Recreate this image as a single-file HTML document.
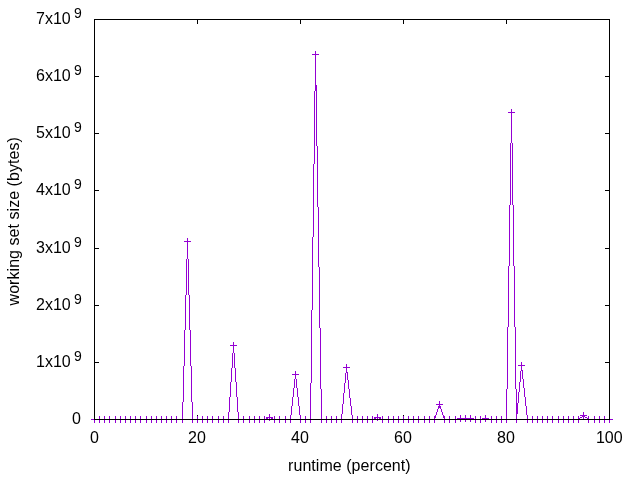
<!DOCTYPE html>
<html><head><meta charset="utf-8"><style>
html,body{margin:0;padding:0;background:#fff;width:640px;height:480px;overflow:hidden}
svg{display:block;will-change:transform}
text{font-family:"Liberation Sans",Arial,sans-serif;font-size:16px;fill:#000}
</style></head><body>
<svg width="640" height="480" viewBox="0 0 640 480">
<rect width="640" height="480" fill="#fff"/>
<path shape-rendering="crispEdges" fill="#9400d3" d="M91 419h3v1h-3zM94 420h1v3h-1zM99 416h1v3h-1zM99 420h1v3h-1zM104 416h1v3h-1zM104 420h1v3h-1zM109 416h1v3h-1zM109 420h1v3h-1zM115 416h1v3h-1zM115 420h1v3h-1zM120 416h1v3h-1zM120 420h1v3h-1zM125 416h1v3h-1zM125 420h1v3h-1zM130 416h1v3h-1zM130 420h1v3h-1zM135 416h1v3h-1zM135 420h1v3h-1zM140 416h1v3h-1zM140 420h1v3h-1zM146 416h1v3h-1zM146 420h1v3h-1zM151 416h1v3h-1zM151 420h1v3h-1zM156 416h1v3h-1zM156 420h1v3h-1zM161 416h1v3h-1zM161 420h1v3h-1zM166 416h1v3h-1zM166 420h1v3h-1zM171 416h1v3h-1zM171 420h1v3h-1zM176 416h1v3h-1zM176 420h1v3h-1zM182 402h1v17h-1zM182 420h1v3h-1zM183 366h1v36h-1zM184 241h7v1h-7zM184 330h1v36h-1zM185 295h1v35h-1zM186 259h1v36h-1zM187 238h1v3h-1zM187 242h1v17h-1zM188 259h1v36h-1zM189 295h1v35h-1zM190 330h1v36h-1zM191 366h1v36h-1zM192 402h1v17h-1zM192 420h1v3h-1zM197 416h1v3h-1zM197 420h1v3h-1zM202 416h1v3h-1zM202 420h1v3h-1zM207 416h1v3h-1zM207 420h1v3h-1zM212 416h1v3h-1zM212 420h1v3h-1zM218 416h1v3h-1zM218 420h1v3h-1zM223 416h1v3h-1zM223 420h1v3h-1zM228 412h1v7h-1zM228 420h1v3h-1zM229 397h1v15h-1zM230 345h7v1h-7zM230 382h1v15h-1zM231 368h1v14h-1zM232 353h1v15h-1zM233 342h1v3h-1zM233 346h1v7h-1zM234 353h1v15h-1zM235 368h1v14h-1zM236 382h1v15h-1zM237 397h1v15h-1zM238 412h1v7h-1zM238 420h1v3h-1zM243 416h1v3h-1zM243 420h1v3h-1zM249 416h1v3h-1zM249 420h1v3h-1zM254 416h1v3h-1zM254 420h1v3h-1zM259 416h1v3h-1zM259 420h1v3h-1zM264 416h1v3h-1zM264 420h1v3h-1zM266 417h7v1h-7zM266 418h2v1h-2zM269 414h1v3h-1zM269 418h1v1h-1zM269 420h1v1h-1zM271 418h2v1h-2zM274 416h1v3h-1zM274 420h1v3h-1zM279 416h1v3h-1zM279 420h1v3h-1zM285 416h1v3h-1zM285 420h1v3h-1zM290 415h1v4h-1zM290 420h1v3h-1zM291 406h1v9h-1zM292 374h7v1h-7zM292 397h1v9h-1zM293 388h1v9h-1zM294 379h1v9h-1zM295 371h1v3h-1zM295 375h1v4h-1zM296 379h1v9h-1zM297 388h1v9h-1zM298 397h1v9h-1zM299 406h1v9h-1zM300 415h1v4h-1zM300 420h1v3h-1zM305 416h1v3h-1zM305 420h1v3h-1zM310 383h1v36h-1zM310 420h1v3h-1zM311 310h1v73h-1zM312 54h7v1h-7zM312 237h1v73h-1zM313 164h1v73h-1zM314 91h1v73h-1zM315 51h1v3h-1zM315 55h1v30h-1zM315 85h2v6h-2zM316 91h1v55h-1zM317 146h1v61h-1zM318 207h1v60h-1zM319 267h1v61h-1zM320 328h1v61h-1zM321 389h1v30h-1zM321 420h1v3h-1zM326 416h1v3h-1zM326 420h1v3h-1zM331 416h1v3h-1zM331 420h1v3h-1zM336 416h1v3h-1zM336 420h1v3h-1zM341 414h1v5h-1zM341 420h1v3h-1zM342 404h1v10h-1zM343 367h7v1h-7zM343 393h1v11h-1zM344 383h1v10h-1zM345 373h1v10h-1zM346 364h1v3h-1zM346 368h1v4h-1zM346 372h2v1h-2zM347 373h1v7h-1zM348 380h1v9h-1zM349 389h1v9h-1zM350 398h1v8h-1zM351 406h1v9h-1zM352 415h1v4h-1zM352 420h1v3h-1zM357 416h1v3h-1zM357 420h1v3h-1zM362 416h1v3h-1zM362 420h1v3h-1zM367 416h1v3h-1zM367 420h1v3h-1zM372 416h1v3h-1zM372 420h1v3h-1zM374 417h7v1h-7zM374 418h2v1h-2zM377 414h1v3h-1zM377 418h1v1h-1zM377 420h1v1h-1zM379 418h2v1h-2zM382 416h1v3h-1zM382 420h1v3h-1zM388 416h1v3h-1zM388 420h1v3h-1zM393 416h1v3h-1zM393 420h1v3h-1zM398 416h1v3h-1zM398 420h1v3h-1zM403 416h1v3h-1zM403 420h1v3h-1zM408 416h1v3h-1zM408 420h1v3h-1zM413 416h1v3h-1zM413 420h1v3h-1zM418 416h1v3h-1zM418 420h1v3h-1zM424 416h1v3h-1zM424 420h1v3h-1zM429 416h1v3h-1zM429 420h1v3h-1zM434 416h2v2h-2zM434 418h1v1h-1zM434 420h1v3h-1zM435 415h1v1h-1zM436 404h7v1h-7zM436 412h1v3h-1zM437 409h1v3h-1zM438 406h3v2h-3zM438 408h1v1h-1zM439 401h1v3h-1zM439 405h1v1h-1zM440 408h1v1h-1zM441 409h1v3h-1zM442 412h1v3h-1zM443 415h1v1h-1zM443 416h2v2h-2zM444 418h1v1h-1zM444 420h1v3h-1zM449 416h1v3h-1zM449 420h1v3h-1zM455 416h1v3h-1zM455 420h1v3h-1zM457 418h17v1h-17zM460 415h1v3h-1zM460 420h1v2h-1zM465 415h1v3h-1zM465 420h1v2h-1zM470 415h1v3h-1zM470 420h1v2h-1zM475 416h1v3h-1zM475 420h1v3h-1zM480 416h1v3h-1zM480 420h1v3h-1zM482 418h7v1h-7zM485 415h1v3h-1zM485 420h1v2h-1zM491 416h1v3h-1zM491 420h1v3h-1zM496 416h1v3h-1zM496 420h1v3h-1zM501 416h1v3h-1zM501 420h1v3h-1zM506 389h1v30h-1zM506 420h1v3h-1zM507 327h1v62h-1zM508 112h7v1h-7zM508 266h1v61h-1zM509 205h1v61h-1zM510 143h1v62h-1zM511 109h1v3h-1zM511 113h1v30h-1zM512 143h1v62h-1zM513 205h1v61h-1zM514 266h1v61h-1zM515 327h1v62h-1zM516 389h1v14h-1zM516 403h2v11h-2zM516 414h1v5h-1zM516 420h1v3h-1zM518 365h7v1h-7zM518 392h1v11h-1zM519 382h1v10h-1zM520 371h1v11h-1zM521 362h1v3h-1zM521 366h1v4h-1zM521 370h2v1h-2zM522 371h1v8h-1zM523 379h1v9h-1zM524 388h1v9h-1zM525 397h1v9h-1zM526 406h1v9h-1zM527 415h1v4h-1zM527 420h1v3h-1zM532 416h1v3h-1zM532 420h1v3h-1zM537 416h1v3h-1zM537 420h1v3h-1zM542 416h1v3h-1zM542 420h1v3h-1zM547 416h1v3h-1zM547 420h1v3h-1zM552 416h1v3h-1zM552 420h1v3h-1zM558 416h1v3h-1zM558 420h1v3h-1zM563 416h1v3h-1zM563 420h1v3h-1zM568 416h1v3h-1zM568 420h1v3h-1zM573 416h1v3h-1zM573 420h1v3h-1zM578 416h1v2h-1zM578 418h2v1h-2zM578 420h1v3h-1zM580 415h7v1h-7zM580 417h2v1h-2zM582 416h3v1h-3zM583 412h1v3h-1zM583 417h1v2h-1zM585 417h2v1h-2zM587 418h2v1h-2zM588 416h1v2h-1zM588 420h1v3h-1zM594 416h1v3h-1zM594 420h1v3h-1zM599 416h1v3h-1zM599 420h1v3h-1zM604 416h1v3h-1zM604 420h1v3h-1zM609 420h1v3h-1zM610 419h3v1h-3z"/>
<path shape-rendering="crispEdges" fill="#000" d="M94 19h516v1h-516zM94 20h1v56h-1zM94 76h5v1h-5zM94 77h1v56h-1zM94 133h5v1h-5zM94 134h1v56h-1zM94 190h5v1h-5zM94 191h1v57h-1zM94 248h5v1h-5zM94 249h1v56h-1zM94 305h5v1h-5zM94 306h1v56h-1zM94 362h5v1h-5zM94 363h1v56h-1zM94 419h516v1h-516zM197 20h1v4h-1zM197 415h1v1h-1zM300 20h1v4h-1zM403 20h1v4h-1zM403 415h1v1h-1zM506 20h1v4h-1zM605 76h5v1h-5zM605 133h5v1h-5zM605 190h5v1h-5zM605 248h5v1h-5zM605 305h5v1h-5zM605 362h5v1h-5zM609 20h1v56h-1zM609 77h1v56h-1zM609 134h1v56h-1zM609 191h1v57h-1zM609 249h1v56h-1zM609 306h1v56h-1zM609 363h1v56h-1z"/>
<text x="81" y="424" text-anchor="end">0</text>
<text x="36" y="367">1x10<tspan dx="3.2" dy="-6.5" font-size="14">9</tspan></text>
<text x="36" y="310">2x10<tspan dx="3.2" dy="-6.5" font-size="14">9</tspan></text>
<text x="36" y="253">3x10<tspan dx="3.2" dy="-6.5" font-size="14">9</tspan></text>
<text x="36" y="195">4x10<tspan dx="3.2" dy="-6.5" font-size="14">9</tspan></text>
<text x="36" y="138">5x10<tspan dx="3.2" dy="-6.5" font-size="14">9</tspan></text>
<text x="36" y="81">6x10<tspan dx="3.2" dy="-6.5" font-size="14">9</tspan></text>
<text x="36" y="24">7x10<tspan dx="3.2" dy="-6.5" font-size="14">9</tspan></text>
<text x="94.5" y="443" text-anchor="middle">0</text>
<text x="197" y="443" text-anchor="middle">20</text>
<text x="300" y="443" text-anchor="middle">40</text>
<text x="403" y="443" text-anchor="middle">60</text>
<text x="506" y="443" text-anchor="middle">80</text>
<text x="609.3" y="443" text-anchor="middle">100</text>
<text x="349.4" y="471" text-anchor="middle" letter-spacing="0.045">runtime (percent)</text>
<text transform="translate(19,221.3) rotate(-90)" text-anchor="middle" letter-spacing="0.045">working set size (bytes)</text>
</svg>
</body></html>
